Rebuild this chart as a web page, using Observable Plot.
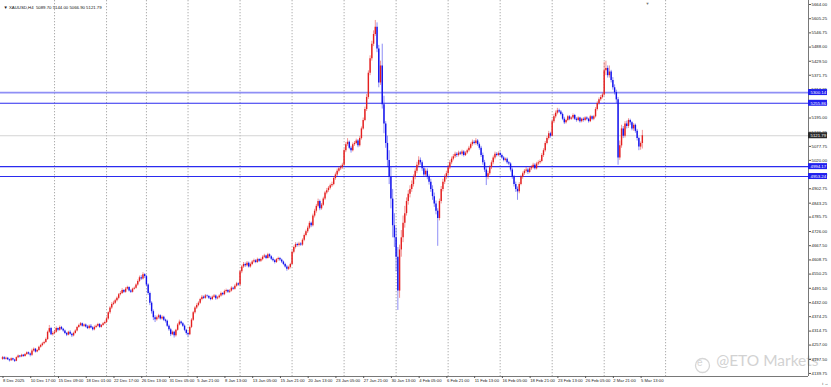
<!DOCTYPE html>
<html><head><meta charset="utf-8">
<script src="https://cdn.jsdelivr.net/npm/d3@7"></script>
<script src="https://cdn.jsdelivr.net/npm/@observablehq/plot@0.6"></script>
<style>
html,body{margin:0;padding:0;background:#fff;}
#chart{width:831px;height:387px;overflow:hidden;}
</style></head><body><div id="chart"></div>
<script>
// ---- data (XAUUSD, H4) ----
const symbolTitle = "XAUUSD,H4  5089.70 5144.00 5066.90 5121.79";
const firstOpen = 4198;
const closes = [
4205,4198,4203,4196,4192,4200, 4195,4190,4205,4212,4208,4215, 4210,4218,4225,4220,4215,4232, 4240,4228,4235,4248,4255,4262, 4268,4280,4310,4325,4300,4305,
4310,4325,4318,4330,4322,4315, 4305,4298,4310,4302,4295,4305, 4315,4330,4338,4345,4335,4340, 4332,4325,4335,4328,4320,4330, 4335,4342,4330,4338,4345,4350,
4365,4390,4410,4425,4430,4440, 4450,4465,4470,4482,4475,4488, 4495,4480,4475,4488,4492, 4505,4520,4535,4530,4548,4540,
4505,4470,4430,4395,4370,4362, 4370,4378,4365,4372,4360,4355, 4335,4320,4300,4310,4295,4318, 4340,4352,4345,4335,4318,4305,
4300,4330,4360,4390,4410,4420, 4430,4445,4455,4450,4460,4458, 4450,4445,4455,4460,4448,4452, 4460,4470,4465,4478,4482,4475, 4480,4492,4488,4500,4510,4505,
4560,4580,4590,4585,4595,4580, 4590,4600,4605,4598,4610,4603, 4610,4620,4625,4615,4630,4622, 4612,4605,4598,4610,4615,4608, 4600,4590,4580,4570,4578,4590,
4640,4660,4672,4668,4675,4670, 4690,4710,4725,4740,4760,4750, 4790,4810,4830,4850,4820,4835, 4860,4885,4895,4905,4915,4920, 4945,4960,4975,4985,4990,5000,
5060,5085,5095,5070,5060,5085, 5090,5100,5080,5110,5150,5185, 5230,5280,5380,5440,5500,5540, 5570,5480,5340,5410,5250,5170, 5090,5020,4950,4860,4750,4700,
4620,4480,4650,4700,4760,4800, 4850,4880,4900,4920,4950,4975, 5000,5020,5010,4985,4960,4975, 4950,4930,4900,4870,4840,4810, 4780,4850,4900,4930,4950,4965,
4990,5010,5025,5035,5045,5040, 5050,5045,5055,5040,5050,5060, 5070,5085,5095,5090,5100,5085, 5070,5040,5010,4980,4950,4965, 4990,5010,5030,5045,5040,5048,
5040,5030,5020,5025,5010,5005, 4980,4950,4920,4900,4890,4920, 4950,4965,4975,4980,4970,4985, 4990,5000,4985,5005,5010,5015, 5040,5060,5090,5110,5130,5120,
5180,5200,5215,5225,5220,5210, 5190,5175,5185,5200,5190,5195, 5205,5190,5185,5195,5180,5190, 5185,5195,5190,5180,5200,5190, 5200,5230,5255,5270,5280,5290,
5390,5400,5370,5385,5350,5320, 5300,5270,5030,5080,5150,5120, 5170,5160,5185,5175,5150,5165, 5140,5110,5075,5089.70,5121.79
];
const highs = [
4210,4209,4207,4206,4199,4204, 4203,4198,4208,4216,4214,4219, 4218,4222,4229,4228,4224,4240, 4245,4243,4239,4252,4260,4268, 4273,4286,4315,4338,4330,4312,
4318,4332,4328,4336,4334,4326, 4319,4309,4314,4316,4306,4310, 4320,4334,4343,4350,4348,4344, 4344,4338,4340,4342,4333,4336, 4340,4347,4346,4342,4350,4356,
4372,4394,4416,4432,4438,4446, 4456,4470,4478,4490,4486,4495, 4500,4498,4486,4492,4497, 4510,4526,4542,4544,4556,4552,
4545,4510,4476,4436,4402,4378, 4376,4384,4382,4378,4376,4364, 4360,4340,4326,4315,4314,4322, 4346,4360,4356,4350,4340,4322,
4310,4335,4366,4396,4416,4428, 4436,4450,4462,4460,4466,4464, 4462,4456,4460,4466,4464,4458, 4465,4476,4474,4484,4488,4486, 4486,4498,4496,4506,4516,4514,
4566,4586,4598,4596,4602,4600, 4596,4606,4612,4610,4616,4614, 4616,4626,4632,4628,4636,4634, 4626,4618,4610,4614,4620,4619, 4612,4604,4595,4586,4583,4595,
4646,4666,4680,4678,4682,4680, 4696,4716,4732,4748,4768,4765, 4798,4818,4838,4860,4856,4842, 4868,4892,4904,4912,4922,4930, 4952,4968,4984,4994,4998,5008,
5068,5094,5110,5100,5078,5092, 5098,5108,5106,5118,5158,5195, 5240,5292,5390,5452,5512,5555, 5598,5588,5495,5430,5500,5285, 5180,5120,5060,4990,4900,4800,
4740,4660,4670,4730,4790,4830, 4865,4895,4915,4935,4960,4985, 5012,5035,5030,5018,4995,4985, 4985,4960,4942,4915,4885,4852, 4820,4860,4912,4942,4960,4975,
5000,5020,5034,5044,5054,5052, 5058,5056,5062,5060,5056,5066, 5078,5092,5104,5102,5110,5106, 5092,5078,5050,5020,4990,4975, 4998,5018,5038,5054,5052,5055,
5055,5046,5036,5030,5030,5016, 5010,4988,4958,4930,4910,4928, 4958,4972,4982,4990,4986,4992, 4998,5008,5006,5012,5018,5022, 5048,5068,5098,5118,5140,5136,
5188,5210,5224,5235,5232,5226, 5216,5198,5190,5206,5205,5200, 5212,5210,5196,5200,5198,5194, 5196,5200,5200,5194,5206,5204, 5206,5238,5262,5278,5288,5298,
5425,5430,5410,5410,5392,5362, 5332,5310,5280,5100,5165,5160, 5180,5182,5192,5190,5180,5172, 5170,5148,5116,5096,5144.00
];
const lows = [
4194,4195,4195,4193,4187,4189, 4191,4185,4188,4201,4204,4205, 4206,4207,4214,4216,4208,4210, 4228,4224,4225,4231,4244,4250, 4258,4264,4276,4305,4296,4294,
4300,4306,4312,4314,4318,4310, 4300,4292,4295,4298,4288,4291, 4302,4311,4326,4333,4331,4330, 4328,4321,4320,4324,4315,4316, 4325,4331,4326,4327,4334,4341,
4346,4360,4384,4404,4420,4425, 4435,4444,4460,4466,4470,4471, 4484,4476,4470,4472,4484, 4488,4500,4515,4524,4526,4532,
4498,4462,4420,4385,4358,4350, 4356,4364,4360,4360,4354,4348, 4330,4314,4292,4296,4286,4290, 4314,4336,4340,4330,4312,4298,
4290,4296,4325,4355,4385,4404, 4415,4425,4440,4445,4446,4452, 4445,4440,4441,4450,4442,4444, 4448,4455,4460,4461,4472,4470, 4470,4476,4483,4484,4496,4500,
4500,4552,4574,4578,4580,4575, 4575,4585,4595,4593,4594,4598, 4598,4605,4615,4610,4612,4616, 4606,4600,4592,4594,4604,4602, 4594,4585,4575,4562,4565,4572,
4588,4634,4654,4662,4662,4665, 4665,4684,4704,4718,4734,4742, 4745,4782,4802,4824,4812,4814, 4830,4854,4878,4888,4898,4908, 4915,4938,4953,4968,4978,4983,
4998,5052,5078,5064,5050,5055, 5078,5084,5072,5075,5104,5145, 5180,5222,5272,5370,5430,5490, 5532,5465,5320,5330,5232,5130, 5070,4990,4920,4820,4700,4660,
4560,4400,4450,4620,4680,4740, 4790,4835,4865,4888,4910,4940, 4965,4990,5000,4975,4950,4952, 4940,4918,4888,4855,4826,4795, 4665,4770,4840,4890,4920,4940,
4955,4982,5002,5018,5028,5032, 5034,5040,5038,5034,5036,5045, 5054,5064,5078,5084,5082,5078, 5062,5032,5000,4970,4916,4940, 4958,4982,5002,5022,5034,5035,
5034,5025,5014,5014,5004,4998, 4972,4942,4910,4888,4855,4882, 4915,4942,4958,4968,4962,4965, 4978,4984,4980,4980,4998,5004, 5010,5032,5054,5084,5104,5112,
5118,5172,5192,5208,5214,5204, 5184,5168,5170,5180,5184,5185, 5188,5185,5178,5180,5174,5175, 5178,5180,5184,5174,5176,5184, 5184,5195,5224,5248,5264,5274,
5285,5370,5360,5360,5340,5310, 5290,5255,5000,5020,5070,5110, 5112,5150,5152,5165,5142,5140, 5132,5100,5060,5062,5066.90
];
const dateLabels = ["8 Dec 2025","10 Dec 17:00","15 Dec 09:00","18 Dec 01:00","22 Dec 17:00","26 Dec 13:00","31 Dec 05:00","5 Jan 21:00","8 Jan 13:00","13 Jan 05:00","15 Jan 21:00","20 Jan 13:00","23 Jan 05:00","27 Jan 21:00","30 Jan 13:00","4 Feb 05:00","6 Feb 21:00","11 Feb 13:00","16 Feb 05:00","18 Feb 21:00","23 Feb 13:00","26 Feb 05:00","2 Mar 21:00","5 Mar 13:00"];
const barsPerLabel = 16;
const weekStartBars = [30,60,83,107,137,167,197,227,257,287,317,347,382.4];
const priceTickLabels = ["5664.00","5605.25","5546.75","5488.00","5429.50","5371.75","5312.25","5253.50","5195.00","5136.25","5077.75","5020.00","4960.50","4902.75","4843.25","4785.75","4726.00","4667.50","4608.75","4550.25","4491.50","4432.00","4374.25","4314.75","4257.00","4197.50","4139.75"];
const levelPrices = [5300.14, 5255.86, 4994.17, 4953.24];
const levelLabels = ["5300.14","5255.86","4994.17","4953.24"];
const bidPrice = 5121.79;
const bidLabel = "5121.79";
const watermark = "@ETO Markets";

// ---- layout ----
const W = 831, H = 387;
const plotRight = 808, plotBottom = 376;
const pxPerBar = 1.734, firstBarPx = 2;
const pricePerPx = 4.1314, topTickPx = 4;
const xDomain = [-firstBarPx / pxPerBar, (plotRight - firstBarPx) / pxPerBar];
const yMax = 5664 + topTickPx * pricePerPx;
const yMin = 5664 - (plotBottom - topTickPx) * pricePerPx;

const bars = closes.map((c, i) => ({i, open: i ? closes[i - 1] : firstOpen, close: c, high: highs[i], low: lows[i]}));
const up = bars.filter(d => d.close >= d.open);
const down = bars.filter(d => d.close < d.open);
const RED = "#e41f1f", BLUE = "#1010ec";
const levels = levelPrices.map((p, k) => ({p, label: levelLabels[k], color: k === 0 ? "#8f8ff5" : "#2b2bef", w: k === 0 ? 1.8 : 1.1}));
const boxW = 19 / pxPerBar, boxH = 3 * pricePerPx;
const labelBars = dateLabels.map((d, k) => k * barsPerLabel);
const font = "'Liberation Sans', Arial, sans-serif";

const chart = Plot.plot({
  width: W, height: H,
  marginLeft: 0, marginTop: 0, marginRight: W - plotRight, marginBottom: H - plotBottom,
  x: {type: "linear", domain: xDomain, axis: null},
  y: {type: "linear", domain: [yMin, yMax], axis: null},
  style: {fontFamily: font, background: "#fff", color: "#222", overflow: "visible"},
  marks: [
    Plot.ruleX(weekStartBars, {stroke: "#8a8a8a", strokeWidth: 0.7, strokeDasharray: "1.3,1.7"}),
    Plot.ruleY([bidPrice], {stroke: "#c9c9c9", strokeWidth: 0.8}),
    Plot.ruleY(levels, {y: "p", stroke: "color", strokeWidth: "w"}),
    Plot.ruleX(up, {x: "i", y1: "low", y2: "high", stroke: RED, strokeWidth: 0.6, strokeOpacity: 0.8}),
    Plot.ruleX(down, {x: "i", y1: "low", y2: "high", stroke: BLUE, strokeWidth: 0.6, strokeOpacity: 0.8}),
    Plot.ruleX(up, {x: "i", y1: "open", y2: "close", stroke: RED, strokeWidth: 1.4}),
    Plot.ruleX(down, {x: "i", y1: "open", y2: "close", stroke: BLUE, strokeWidth: 1.4}),
    // watermark
    Plot.dot([0], {frameAnchor: "bottom-right", dx: -106, dy: -11, r: 7, stroke: "#d6d6d6", strokeWidth: 1.3, fill: "none"}),
    Plot.text(["e"], {frameAnchor: "bottom-right", dx: -106, dy: -11, fontSize: 10, fill: "#d6d6d6"}),
    Plot.text([watermark], {frameAnchor: "bottom-right", dx: 10, dy: -11, textAnchor: "end", fontSize: 15.5, fill: "#d2d2d2", fontFamily: "Lato, 'Open Sans', sans-serif"}),
    // frame
    Plot.ruleX([xDomain[1]], {stroke: "#555", strokeWidth: 0.8}),
    Plot.ruleY([yMin], {stroke: "#555", strokeWidth: 0.8}),
    // axes
    Plot.axisY({anchor: "right", ticks: priceTickLabels.map(Number), tickFormat: (d, k) => priceTickLabels[k], tickSize: 2, tickPadding: 1, fontSize: 4.3, stroke: "#555", fill: "#222"}),
    Plot.axisX({anchor: "bottom", ticks: labelBars, tickFormat: (d, k) => dateLabels[k], tickSize: 2, tickPadding: 1, textAnchor: "start", dx: 0.5, fontSize: 4.2, stroke: "#555", fill: "#222"}),
    // level & bid boxes on the price axis
    Plot.rect(levels, {x1: xDomain[1], x2: xDomain[1] + boxW, y1: d => d.p - boxH, y2: d => d.p + boxH, fill: "#2020ee"}),
    Plot.text(levels, {x: xDomain[1], y: "p", text: "label", dx: 2, textAnchor: "start", fontSize: 4.3, fill: "#fff"}),
    Plot.rect([bidPrice], {x1: xDomain[1], x2: xDomain[1] + boxW, y1: d => d - boxH, y2: d => d + boxH, fill: "#2a2a2a"}),
    Plot.text([bidLabel], {x: xDomain[1], y: bidPrice, dx: 2, textAnchor: "start", fontSize: 4.3, fill: "#fff"}),
    // title & shift marker
    Plot.text(["\u25BC " + symbolTitle], {frameAnchor: "top-left", dx: 3, dy: 5, textAnchor: "start", fontSize: 4.3, fill: "#111"}),
    Plot.text(["\u25BC"], {x: 372, frameAnchor: "top", dy: 2, fontSize: 4, fill: "#777"})
  ]
});
document.getElementById("chart").append(chart);
</script></body></html>
